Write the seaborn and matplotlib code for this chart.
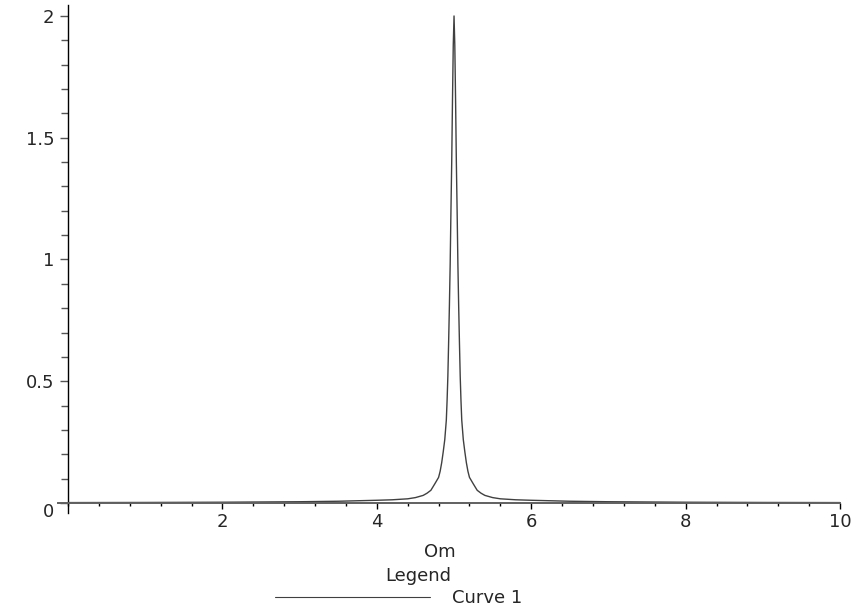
import matplotlib
matplotlib.use('Agg')
import matplotlib.pyplot as plt
import seaborn as sns
from matplotlib.ticker import MultipleLocator

# Valores (curva de ressonância)
om_left = [0.0, 1.0, 2.0, 3.0, 3.5, 4.0, 4.2, 4.4, 4.5, 4.6, 4.65, 4.7, 4.75,
           4.8, 4.82, 4.84, 4.86, 4.88, 4.90, 4.91, 4.92, 4.93, 4.94, 4.95,
           4.96, 4.97, 4.98, 4.99]
amp_left = [0.0015, 0.002, 0.003, 0.005, 0.007, 0.011, 0.013, 0.017, 0.022,
            0.031, 0.040, 0.052, 0.078, 0.105, 0.130, 0.165, 0.210, 0.260,
            0.340, 0.420, 0.520, 0.660, 0.810, 0.980, 1.200, 1.400, 1.655,
            1.880]
om_peak = [5.0]
amp_peak = [2.0]
om_right = [5.01, 5.02, 5.03, 5.04, 5.05, 5.06, 5.07, 5.08, 5.09, 5.10, 5.12,
            5.14, 5.16, 5.18, 5.2, 5.25, 5.3, 5.35, 5.4, 5.5, 5.6, 5.8, 6.0,
            6.5, 7.0, 8.0, 9.0, 10.0]
amp_right = [1.880, 1.655, 1.400, 1.200, 0.980, 0.810, 0.660, 0.520, 0.420,
             0.340, 0.260, 0.210, 0.165, 0.130, 0.105, 0.078, 0.052, 0.040,
             0.031, 0.022, 0.017, 0.013, 0.011, 0.007, 0.005, 0.003, 0.002,
             0.0015]

x_ticks = [2, 4, 6, 8, 10]
y_ticks = [0, 0.5, 1, 1.5, 2]
y_labels = ['0', '0.5', '1', '1.5', '2']

om = om_left + om_peak + om_right
amp = amp_left + amp_peak + amp_right

sns.set_style('white')
plt.rcParams['font.family'] = ['DejaVu Sans']

fig = plt.figure(figsize=(8.62, 6.11), dpi=100)
ax = fig.add_axes([0.0673, 0.1609, 0.9072, 0.8309])

sns.lineplot(x=om, y=amp, ax=ax, color='#404040', linewidth=1.0, label='Curve 1')

ax.set_xlim(-0.13, 10)
ax.set_ylim(-0.04, 2.045)

# eixos cruzando na origem, estilo Maple
for s in ['top', 'right']:
    ax.spines[s].set_visible(False)
ax.spines['left'].set_position(('data', 0))
ax.spines['bottom'].set_position(('data', 0))
ax.spines['left'].set_color('black')
ax.spines['left'].set_linewidth(1.0)
ax.spines['bottom'].set_color('#606060')
ax.spines['bottom'].set_linewidth(1.4)

ax.set_xticks(x_ticks)
ax.set_xticklabels([str(t) for t in x_ticks])
ax.xaxis.set_minor_locator(MultipleLocator(0.4))
ax.set_yticks(y_ticks)
ax.set_yticklabels(y_labels)
ax.yaxis.set_minor_locator(MultipleLocator(0.1))

ax.tick_params(axis='x', which='major', direction='out', length=4, width=1,
               color='black', labelsize=13, pad=3, bottom=True)
ax.tick_params(axis='x', which='minor', direction='out', length=2, width=1,
               color='black', bottom=True)
ax.tick_params(axis='y', which='major', direction='out', length=6, width=1,
               color='#555555', labelsize=13, pad=4, left=True)
ax.tick_params(axis='y', which='minor', direction='out', length=5, width=1,
               color='#555555', left=True)
ax.get_yticklabels()[0].set_va('top')

ax.set_xlabel('Om', fontsize=13)
ax.xaxis.set_label_coords(0.488, -0.060)
ax.set_ylabel('')

# legenda no estilo do Maple
leg = ax.legend(loc='center left', bbox_to_anchor=(0.319, 0.0213),
                bbox_transform=fig.transFigure, frameon=False, fontsize=13,
                handlelength=8.6, handletextpad=1.2, borderpad=0,
                borderaxespad=0, labelspacing=0)
leg.get_lines()[0].set_linewidth(0.8)
leg.get_lines()[0].set_color('#404040')
fig.text(418 / 862, 1 - 576 / 611, 'Legend', fontsize=13, ha='center', va='center')

fig.savefig('out.png', dpi=100)
